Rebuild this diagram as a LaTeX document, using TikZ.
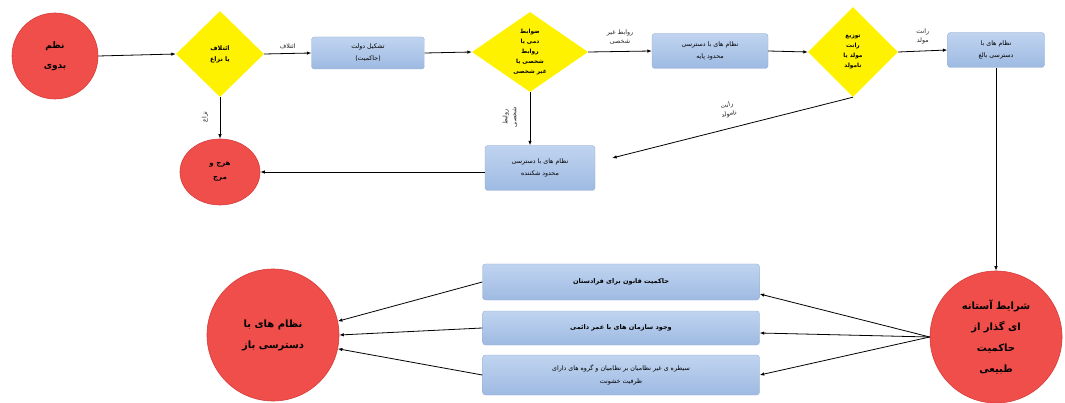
\documentclass[tikz,border=0pt]{standalone}
\usepackage{fontspec}
\newfontfamily\arabicfont[Script=Arabic]{DejaVu Sans}
\TeXXeTstate=1
\usetikzlibrary{shapes.geometric,arrows.meta,calc}
\newcommand{\fa}[1]{\beginR #1\endR}
\definecolor{redfill}{RGB}{240,78,74}
\definecolor{redline}{RGB}{215,60,58}
\definecolor{boxtop}{RGB}{192,212,240}
\definecolor{boxbot}{RGB}{158,186,226}
\definecolor{boxline}{RGB}{150,175,212}
\begin{document}
\begin{tikzpicture}[x=1pt,y=-1pt,
  redc/.style={circle,fill=redfill,draw=redline,line width=0.6pt,inner sep=0pt,align=center,font=\arabicfont\bfseries\fontsize{10}{21}\selectfont},
  dia/.style={diamond,fill=yellow,draw=none,inner sep=0pt},
  diatext/.style={align=center,font=\arabicfont\bfseries\fontsize{5.8}{10}\selectfont},
  bbox/.style={rectangle,rounded corners=3pt,top color=boxtop,bottom color=boxbot,draw=boxline,line width=0.4pt,align=center,inner sep=2pt,font=\arabicfont\fontsize{6.3}{12}\selectfont},
  conn/.style={line width=0.8pt,-{Latex[length=4.5pt,width=3.5pt]}},
  elab/.style={font=\arabicfont\fontsize{6.3}{9}\selectfont,align=center,text=black!85}]
\fill[white] (0,0) rectangle (1065,403);
\useasboundingbox (0,0) rectangle (1065,403);
% top row
\node[redc,minimum size=86pt,font=\arabicfont\bfseries\fontsize{9}{20}\selectfont] (nb) at (55,56) {\fa{نظم}\\\fa{بدوی}};
\node[dia,minimum width=88pt,minimum height=86pt] (d1) at (220,54) {};
\node[diatext,font=\arabicfont\bfseries\fontsize{6.3}{11}\selectfont] at (d1) {\fa{ائتلاف}\\\fa{یا نزاع}};
\node[bbox,minimum width=113pt,minimum height=32pt] (b1) at (368,53) {\fa{تشکیل دولت}\\\fa{(حاکمیت)}};
\node[dia,minimum width=116pt,minimum height=80pt] (d2) at (530,52) {};
\node[diatext] at (d2) {\fa{ضوابط}\\\fa{دمی یا}\\\fa{روابط}\\\fa{شخصی یا}\\\fa{غیر شخصی}};
\node[bbox,minimum width=116pt,minimum height=35pt] (b2) at (710,51) {\fa{نظام های با دسترسی}\\\fa{محدود پایه}};
\node[dia,minimum width=90pt,minimum height=90pt] (d3) at (853,52) {};
\node[diatext] at (d3) {\fa{توزیع}\\\fa{رانت}\\\fa{مولد یا}\\\fa{نامولد}};
\node[bbox,minimum width=97pt,minimum height=35pt] (b3) at (996,50) {\fa{نظام های با}\\\fa{دسترسی بالغ}};
% second row
\node[redc,ellipse,minimum width=80pt,minimum height=66pt,font=\arabicfont\bfseries\fontsize{7}{14}\selectfont] (hm) at (220,172) {\fa{هرج و}\\\fa{مرج}};
\node[bbox,minimum width=110pt,minimum height=45pt] (bf) at (540,168) {\fa{نظام های با دسترسی}\\\fa{محدود شکننده}};
% bottom
\node[redc,minimum size=132pt] (sh) at (996,337) {\fa{شرایط آستانه}\\\fa{ای گذار از}\\\fa{حاکمیت}\\\fa{طبیعی}};
\node[bbox,minimum width=277pt,minimum height=36pt,font=\arabicfont\bfseries\fontsize{6.5}{12}\selectfont] (x1) at (621,282) {\fa{حاکمیت قانون برای فرادستان}};
\node[bbox,minimum width=277pt,minimum height=34pt,font=\arabicfont\bfseries\fontsize{6.5}{12}\selectfont] (x2) at (621,328) {\fa{وجود سازمان های با عمر دائمی}};
\node[bbox,minimum width=277pt,minimum height=40pt,font=\arabicfont\fontsize{6.3}{13}\selectfont] (x3) at (621,375) {\fa{سیطره ی غیر نظامیان بر نظامیان و گروه های دارای}\\\fa{ظرفیت خشونت}};
\node[redc,minimum size=132pt] (oa) at (273,335) {\fa{نظام های با}\\\fa{دسترسی باز}};
% connectors
\draw[conn] (nb.east) -- (d1.west);
\draw[conn] (d1.east) -- (b1.west) node[elab,midway,above=1pt] {\fa{ائتلاف}};
\draw[conn] (b1.east) -- (d2.west);
\draw[conn] (d2.east) -- (b2.west) node[elab,midway,above=3pt] {\fa{روابط غیر}\\\fa{شخصی}};
\draw[conn] (b2.east) -- (d3.west);
\draw[conn] (d3.east) -- (b3.west) node[elab,midway,above=3pt] {\fa{رانت}\\\fa{مولد}};
\draw[conn] (b3.south) -- (sh.north);
\draw[conn] (d3.south) -- ($(bf.east)+(17,-10)$);
\node[elab,rotate=13] (lr) at (728,110) {\fa{رانت}\\\fa{نامولد}};
\draw[conn] (d2.south) -- (d2.south |- bf.north);
\node[elab,rotate=90] (lp) at (510,117) {\fa{روابط}\\\fa{شخصی}};
\draw[conn] (d1.south) -- (hm.north);
\node[elab,rotate=90] (ln) at (205,117) {\fa{نزاع}};
\draw[conn] (bf.west |- hm.east) -- (hm.east);
\draw[conn] (sh.west) -- ([yshift=-12pt]x1.east);
\draw[conn] (sh.west) -- ([yshift=-5pt]x2.east);
\draw[conn] (sh.west) -- (x3.east);
\draw[conn] (x1.west) -- (oa.12);
\draw[conn] (x2.west) -- (oa.0);
\draw[conn] (x3.west) -- (oa.-12);
\end{tikzpicture}
\end{document}
